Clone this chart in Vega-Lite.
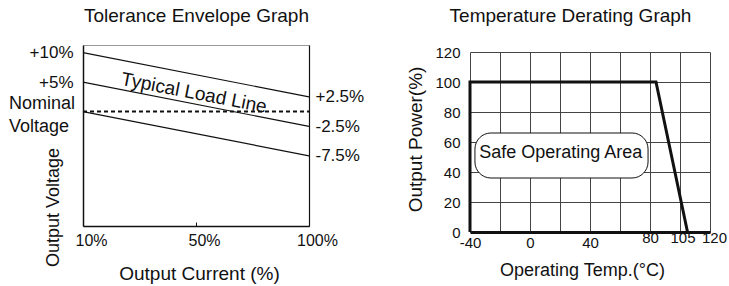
{
  "$schema": "https://vega.github.io/schema/vega-lite/v6.json",
  "width": 729,
  "height": 284,
  "autosize": {"type": "none"},
  "padding": 0,
  "background": "white",
  "config": {
    "font": "Liberation Sans",
    "view": {"stroke": null},
    "axis": {"labelColor": "#111", "titleColor": "#111", "titleFontWeight": "normal", "domainColor": "#111", "tickColor": "#111", "labelFlush": false, "labelOverlap": false, "grid": false, "ticks": false}
  },
  "layer": [
    {
      "layer": [
        {
          "data": {"values": [
            {"load": "10%", "deviation": 10, "line": "upper"},
            {"load": "100%", "deviation": 2.5, "line": "upper"},
            {"load": "10%", "deviation": 5, "line": "typical"},
            {"load": "100%", "deviation": -2.5, "line": "typical"},
            {"load": "10%", "deviation": 0, "line": "lower"},
            {"load": "100%", "deviation": -7.5, "line": "lower"}
          ]},
          "mark": {"type": "line", "color": "#111", "strokeWidth": 1.2},
          "encoding": {
            "x": {"field": "load", "type": "ordinal",
              "scale": {"type": "point", "domain": ["10%", "50%", "100%"], "range": [83, 309], "padding": 0},
              "axis": {"orient": "bottom", "offset": -58, "domainWidth": 1.5, "ticks": true, "tickSize": -4, "tickWidth": 1, "labelFontSize": 16, "labelPadding": 10, "labelOffset": 8, "labelAngle": 0, "title": "Output Current (%)", "titleFontSize": 19, "titleX": 199, "titleY": 47, "titleBaseline": "middle"}},
            "y": {"field": "deviation", "type": "quantitative",
              "scale": {"domain": [-19.4, 11.3], "range": [226, 45], "nice": false, "zero": false},
              "axis": {"orient": "left", "offset": -83, "values": [10, 5], "labelExpr": "'+' + datum.value + '%'", "labelFontSize": 17, "labelPadding": 10, "domainWidth": 1.5, "title": "Output Voltage", "titleFontSize": 18, "titleX": -30, "titleY": 207, "titleBaseline": "middle"}},
            "detail": {"field": "line"}
          }
        },
        {
          "data": {"values": [
            {"load": "10%", "deviation": 0},
            {"load": "100%", "deviation": 0}
          ]},
          "mark": {"type": "line", "color": "#111", "strokeWidth": 2, "strokeDash": [4, 3]},
          "encoding": {
            "x": {"field": "load", "type": "ordinal",
              "scale": {"type": "point", "domain": ["10%", "50%", "100%"], "range": [83, 309], "padding": 0},
              "axis": {"orient": "top", "offset": -45, "domainColor": "#999", "domainWidth": 1, "labels": false, "ticks": false, "title": "Tolerance Envelope Graph", "titleFontSize": 19, "titleX": 196, "titleY": -30, "titleBaseline": "middle"}},
            "y": {"field": "deviation", "type": "quantitative",
              "scale": {"domain": [-19.4, 11.3], "range": [226, 45], "nice": false, "zero": false},
              "axis": {"orient": "right", "offset": -420, "values": [2.5, -2.5, -7.5], "labelExpr": "(datum.value > 0 ? '+' : '') + datum.value + '%'", "labelFontSize": 17, "labelPadding": 6, "domainWidth": 1.2, "title": null}}
          }
        },
        {
          "data": {"values": [{"load": "50%", "deviation": 3.1, "label": "Typical Load Line"}]},
          "mark": {"type": "text", "fontSize": 19, "angle": 11, "align": "center", "baseline": "middle", "dx": -2, "color": "#111"},
          "encoding": {
            "x": {"field": "load", "type": "ordinal", "axis": null},
            "y": {"field": "deviation", "type": "quantitative", "axis": null},
            "text": {"field": "label"}
          }
        },
        {
          "data": {"values": [{"load": "10%", "deviation": 0, "label": "Nominal\nVoltage"}]},
          "mark": {"type": "text", "fontSize": 18, "align": "left", "baseline": "middle", "dx": -74, "dy": -8, "lineBreak": "\n", "lineHeight": 23, "color": "#111"},
          "encoding": {
            "x": {"field": "load", "type": "ordinal", "axis": null},
            "y": {"field": "deviation", "type": "quantitative", "axis": null},
            "text": {"field": "label"}
          }
        }
      ],
      "resolve": {"axis": {"x": "independent", "y": "independent"}}
    },
    {
      "layer": [
        {
          "data": {"values": [
            {"temp": -40, "power": 0, "seq": 1},
            {"temp": -40, "power": 100, "seq": 2},
            {"temp": 84, "power": 100, "seq": 3},
            {"temp": 105, "power": 0, "seq": 4}
          ]},
          "mark": {"type": "line", "color": "#111", "strokeWidth": 3},
          "encoding": {
            "x": {"field": "temp", "type": "quantitative",
              "scale": {"domain": [-40, 120], "range": [470, 710], "nice": false, "zero": false},
              "axis": {"orient": "bottom", "offset": -52, "values": [-40, -20, 0, 20, 40, 60, 80, 100, 105, 120], "labelExpr": "indexof([-20, 20, 60, 100], datum.value) >= 0 ? '' : '' + datum.value", "grid": true, "gridColor": "#444", "gridWidth": 1, "gridOpacity": {"condition": {"test": "datum.value === 105", "value": 0}, "value": 1}, "domainWidth": 3, "labelFontSize": 15,
                "labelPadding": {"condition": {"test": "datum.value >= 80", "value": -2}, "value": 3},
                "labelOffset": {"condition": [{"test": "datum.value === 105", "value": -5}, {"test": "datum.value === 120", "value": 4}], "value": 0},
                "title": "Operating Temp.(°C)", "titleFontSize": 18, "titleX": 582, "titleY": 38, "titleBaseline": "middle"}},
            "y": {"field": "power", "type": "quantitative",
              "scale": {"domain": [0, 120], "range": [232, 52], "nice": false},
              "axis": {"orient": "left", "offset": -470, "values": [0, 20, 40, 60, 80, 100, 120], "grid": true, "gridColor": "#444", "gridWidth": 1, "domain": false, "labelFontSize": 15, "labelPadding": 10, "title": "Output Power(%)", "titleFontSize": 19, "titleX": -55, "titleY": 139, "titleBaseline": "middle"}},
            "order": {"field": "seq"}
          }
        },
        {
          "data": {"values": [{"temp_start": -36.7, "temp_end": 78.7, "power_low": 36, "power_high": 66}]},
          "mark": {"type": "rect", "fill": "white", "stroke": "#111", "strokeWidth": 1, "cornerRadius": 16},
          "encoding": {
            "x": {"field": "temp_start", "type": "quantitative",
              "axis": {"orient": "top", "offset": -52, "domain": false, "labels": false, "ticks": false, "grid": false, "title": "Temperature Derating Graph", "titleFontSize": 19, "titleX": 570, "titleY": -37, "titleBaseline": "middle"}},
            "x2": {"field": "temp_end"},
            "y": {"field": "power_low", "type": "quantitative", "axis": null},
            "y2": {"field": "power_high"}
          }
        },
        {
          "data": {"values": [{"temp": 20.5, "power": 53, "label": "Safe Operating Area"}]},
          "mark": {"type": "text", "fontSize": 18, "align": "center", "baseline": "middle", "color": "#111"},
          "encoding": {
            "x": {"field": "temp", "type": "quantitative", "axis": null},
            "y": {"field": "power", "type": "quantitative", "axis": null},
            "text": {"field": "label"}
          }
        }
      ],
      "resolve": {"axis": {"x": "independent", "y": "independent"}}
    }
  ],
  "resolve": {"scale": {"x": "independent", "y": "independent"}, "axis": {"x": "independent", "y": "independent"}}
}
